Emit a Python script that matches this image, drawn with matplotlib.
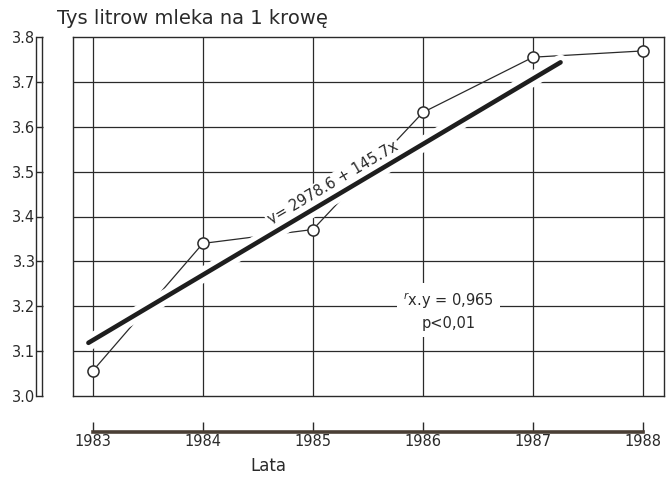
import matplotlib
matplotlib.use("Agg")
import matplotlib.pyplot as plt
import matplotlib.patheffects as pe
from matplotlib.lines import Line2D
import numpy as np

# data
years = [1983, 1984, 1985, 1986, 1987, 1988]
milk = [3.056, 3.340, 3.371, 3.632, 3.755, 3.769]   # thousand litres per cow
y_ticks = [3.0, 3.1, 3.2, 3.3, 3.4, 3.5, 3.6, 3.7, 3.8]
y_labels = ["3.0", "3.1", "3.2", "3.3", "3.4", "3.5", "3.6", "3.7", "3.8"]
reg_a, reg_b = 2978.6, 145.7   # y = a + b*x, x = 1 for 1983
reg_x = [1982.96, 1987.25]

ink = "#2a2a2a"
plt.rcParams['font.family'] = ['DejaVu Sans']

fig = plt.figure(figsize=(6.67, 4.78), dpi=100)
W, H = 667, 478
L, R, T, B = 73, 664, 37, 396
ax = fig.add_axes([L / W, 1 - B / H, (R - L) / W, (B - T) / H])
ax.set_xlim(1982.82, 1988.19)
ax.set_ylim(3.0, 3.8)

# frame and grid
for s in ax.spines.values():
    s.set_visible(False)
ax.axvline(1982.82, color=ink, lw=1.0, zorder=1, clip_on=False)
ax.axvline(1988.19, color=ink, lw=1.0, zorder=1, clip_on=False)
ax.axhline(3.0, color=ink, lw=1.0, zorder=1, clip_on=False)
ax.axhline(3.8, color=ink, lw=1.0, zorder=1, clip_on=False)
for yv in y_ticks[1:-1]:
    ax.axhline(yv, color=ink, lw=0.9, zorder=1)
for xv in years:
    ax.axvline(xv, color=ink, lw=0.9, zorder=1)

# left axis (double line with ticks)
ax.spines['left'].set_visible(True)
ax.spines['left'].set_position(('outward', 27))
ax.spines['left'].set_color(ink)
ax.spines['left'].set_linewidth(1.0)
ax.set_yticks(y_ticks)
ax.set_yticklabels(y_labels)
ax.tick_params(axis='y', direction='in', length=5, width=1, colors=ink,
               labelsize=10.5, pad=0)
fig.add_artist(Line2D([42 / W, 42 / W], [1 - B / H, 1 - T / H],
                      color=ink, lw=1.0))

# bottom axis (separate, lowered)
ax.spines['bottom'].set_visible(True)
ax.spines['bottom'].set_position(('outward', 26))
ax.spines['bottom'].set_bounds(1983, 1988)
ax.spines['bottom'].set_color("#4a3f35")
ax.spines['bottom'].set_linewidth(2.6)
ax.set_xticks(years)
ax.set_xticklabels([str(y) for y in years])
ax.tick_params(axis='x', direction='in', length=7, width=1, colors=ink,
               labelsize=10.5, pad=1)

# regression line
rx = np.array(reg_x)
ry = (reg_a + reg_b * (rx - 1982)) / 1000.0
ax.plot(rx, ry, color="#1e1e1e", lw=3.3, solid_capstyle='round', zorder=4,
        path_effects=[pe.Stroke(linewidth=11, foreground='white'), pe.Normal()])

# observed data
ax.plot(years, milk, color=ink, lw=0.9, zorder=3)
ax.plot(years, milk, 'o', ms=8, mfc='white', mec=ink, mew=1.1, zorder=5,
        clip_on=False)

# texts
tx = 1985.22
ty = (reg_a + reg_b * (tx - 1982)) / 1000.0 + 0.012
ax.text(tx, ty, "y= 2978.6 + 145.7x", rotation=30.5, fontsize=10.5,
        color=ink, ha='center', va='bottom', rotation_mode='anchor', zorder=3.5,
        bbox=dict(boxstyle='square,pad=0.15', fc='white', ec='none'))
ax.text(1986.23, 3.19, "$^{r}$x.y = 0,965\np<0,01", fontsize=10.5, color=ink,
        ha='center', va='center', zorder=6, linespacing=1.4,
        bbox=dict(boxstyle='square,pad=0.4', fc='white', ec='none'))

fig.text(57 / W, 1 - 18 / H, "Tys litrow mleka na 1 krowę", fontsize=14,
         color=ink, ha='left', va='center')
fig.text(268 / W, 1 - 466 / H, "Lata", fontsize=12, color=ink,
         ha='center', va='center')

fig.savefig("out.png", dpi=100, facecolor='white')
